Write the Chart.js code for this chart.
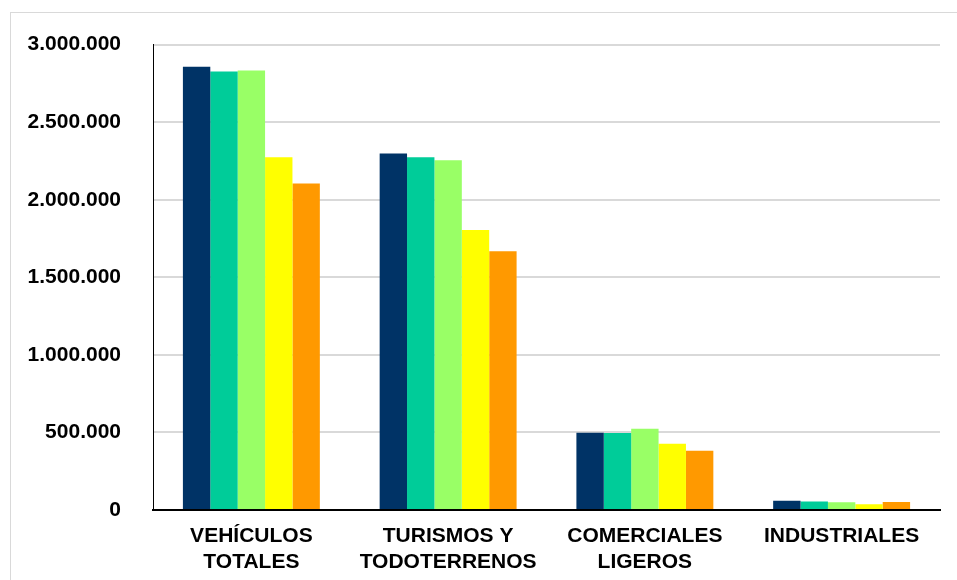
<!DOCTYPE html>
<html>
<head>
<meta charset="utf-8">
<script src="https://cdn.jsdelivr.net/npm/chart.js@4"></script>
<style>
    html, body { margin: 0; padding: 0; background: #fff; }
    .container { position: relative; width: 957px; height: 580px; overflow: hidden; }
    .marco { position: absolute; left: 10px; top: 12px; width: 980px; height: 600px; border: 1px solid #d9d9d9; box-sizing: border-box; }
    #myChart { position: absolute; left: 0; top: 0; }
</style>
</head>
<body>
<div class="container">
    <div class="marco"></div>
    <canvas id="myChart" width="957" height="580"></canvas>
</div>
<script>
// Datos
const categorias = [["VEHÍCULOS", "TOTALES"], ["TURISMOS Y", "TODOTERRENOS"], ["COMERCIALES", "LIGEROS"], "INDUSTRIALES"];
const serie1 = [2858000, 2298000, 498000, 60000];
const serie2 = [2827000, 2274000, 496000, 54000];
const serie3 = [2833000, 2255000, 524000, 50000];
const serie4 = [2274000, 1805000, 427000, 37000];
const serie5 = [2105000, 1668000, 382000, 52000];
const nombresSeries = ["Serie 1", "Serie 2", "Serie 3", "Serie 4", "Serie 5"];
const colores = ["#003366", "#00cc99", "#99ff66", "#ffff00", "#ff9900"];

document.addEventListener("DOMContentLoaded", () => {
    const ctx = document.querySelector("#myChart");
    const fuente = { family: "'Liberation Sans', Arial, sans-serif", size: 21, weight: "bold" };

    // formato con punto de miles
    function miles(v) {
        return String(v).replace(/\B(?=(\d{3})+(?!\d))/g, ".");
    }

    const series = [serie1, serie2, serie3, serie4, serie5];

    new Chart(ctx, {
        type: "bar",
        data: {
            labels: categorias,
            datasets: series.map((s, i) => ({
                label: nombresSeries[i],
                data: s,
                backgroundColor: colores[i],
                borderWidth: 0,
                categoryPercentage: 0.696,
                barPercentage: 1.0,
            })),
        },
        options: {
            responsive: false,
            animation: false,
            layout: { padding: { left: 0, right: 17, top: 43, bottom: 0 } },
            scales: {
                x: {
                    grid: { display: false, drawTicks: false },
                    border: { display: true, color: "#000", width: 2 },
                    ticks: {
                        color: "#000",
                        font: { ...fuente, lineHeight: 1.2 },
                        padding: 14,
                        maxRotation: 0,
                        autoSkip: false,
                    },
                    afterFit: (scale) => { scale.height = 70; },
                },
                y: {
                    min: 0,
                    max: 3000000,
                    grid: { color: "#d9d9d9", lineWidth: 2, drawTicks: false },
                    border: { display: true, color: "#000", width: 1 },
                    ticks: {
                        stepSize: 500000,
                        color: "#000",
                        font: fuente,
                        padding: 32,
                        callback: (v) => miles(v),
                    },
                    afterFit: (scale) => { scale.width = 153; },
                },
            },
            plugins: {
                legend: { display: false },
                tooltip: { enabled: false },
            },
        },
    });
});
</script>
</body>
</html>
